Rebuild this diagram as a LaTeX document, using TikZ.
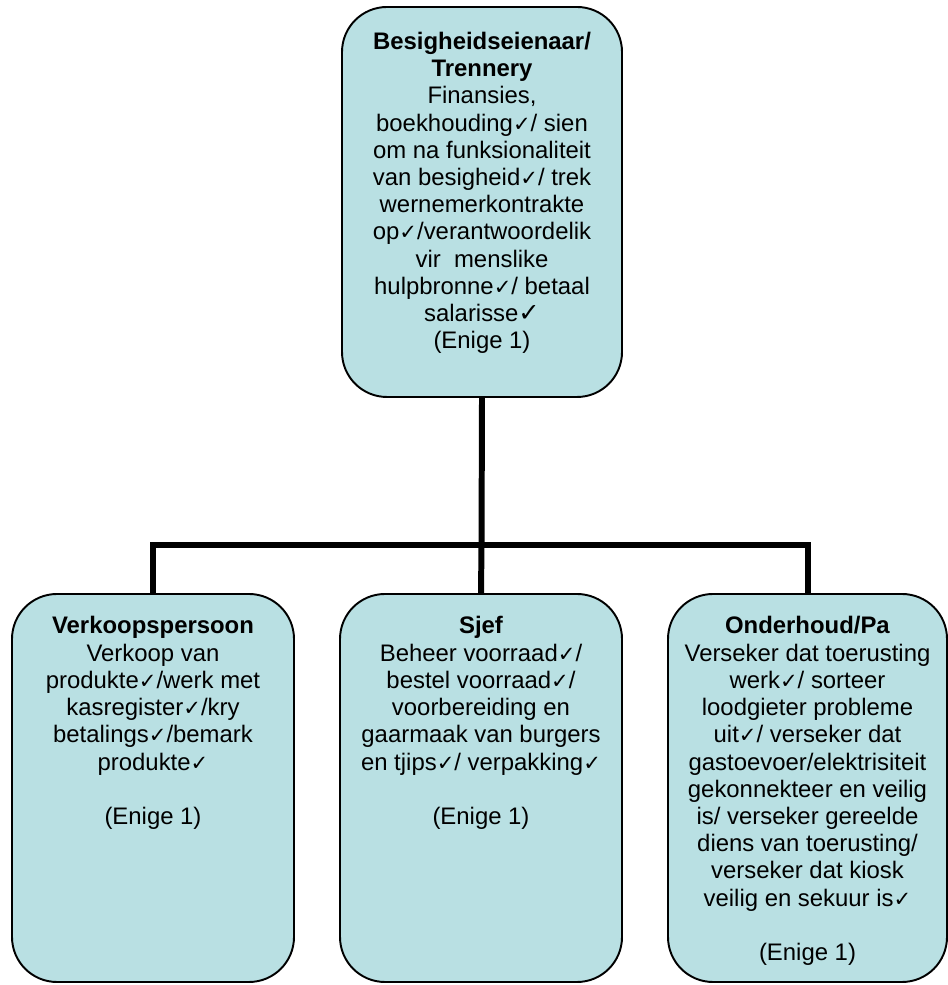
\documentclass[tikz,border=0pt]{standalone}
\usepackage{fontspec}
\setmainfont{Liberation Sans}
\newfontfamily\symfont{DejaVu Sans}
\newcommand{\tick}{{\symfont\fontsize{12}{12}\selectfont ✓}}
\newcommand{\bigtick}{{\symfont\fontsize{14.5}{14.5}\selectfont ✓}}
\definecolor{boxfill}{HTML}{B9E0E3}
\begin{document}
\begin{tikzpicture}
    \tikzset{unit/.style = {draw, line width=1.1pt, rounded corners=0.9cm, fill=boxfill, inner sep=0pt, font=\fontsize{13.6}{15.5}\selectfont}}
    \tikzset{link/.style = {-, line width=3.4pt}}
    \useasboundingbox (0,0) rectangle (18.94,19.7);
    % owner on top
    \node[unit, minimum width=5.6cm, minimum height=7.8cm] (owner) at (9.64,15.66) {\parbox[c][7.8cm][t]{5.4cm}{\centering\vspace*{0.5cm}
        \textbf{Besigheidseienaar/}\\ \textbf{Trennery}\\ Finansies,\\ boekhouding\tick/ sien\\ om na funksionaliteit\\ van besigheid\tick/ trek\\ wernemerkontrakte\\ op\tick/verantwoordelik\\ vir~ menslike\\ hulpbronne\tick/ betaal\\ salarisse\bigtick\\ (Enige 1)}};
    % staff below
    \node[unit, minimum width=5.64cm, minimum height=7.76cm] (sales) at (3.06,3.94) {\parbox[c][7.76cm][t]{5.4cm}{\centering\vspace*{0.45cm}
        \textbf{Verkoopspersoon}\\ Verkoop van\\ produkte\tick/werk met\\ kasregister\tick/kry\\ betalings\tick/bemark\\ produkte\tick\\[15.5pt] (Enige 1)}};
    \node[unit, minimum width=5.64cm, minimum height=7.76cm] (chef) at (9.62,3.94) {\parbox[c][7.76cm][t]{5.4cm}{\centering\vspace*{0.45cm}
        \textbf{Sjef}\\ Beheer voorraad\tick/\\ bestel voorraad\tick/\\ voorbereiding en\\ gaarmaak van burgers\\ en tjips\tick/ verpakking\tick\\[15.5pt] (Enige 1)}};
    \node[unit, minimum width=5.58cm, minimum height=7.76cm] (maint) at (16.15,3.94) {\parbox[c][7.76cm][t]{5.4cm}{\centering\vspace*{0.45cm}
        \textbf{Onderhoud/Pa}\\ Verseker dat toerusting\\ werk\tick/ sorteer\\ loodgieter probleme\\ uit\tick/ verseker dat\\ gastoevoer/elektrisiteit\\ gekonnekteer en veilig\\ is/ verseker gereelde\\ diens van toerusting/\\ verseker dat kiosk\\ veilig en sekuur is\tick\\[15.5pt] (Enige 1)}};
    % connectors
    \coordinate (split) at (9.63,8.8);
    \draw[link] (owner.south) -- (split);
    \draw[link] (sales.north) |- (split) -| (maint.north);
    \draw[link] (split) -- (chef.north);
\end{tikzpicture}
\end{document}
